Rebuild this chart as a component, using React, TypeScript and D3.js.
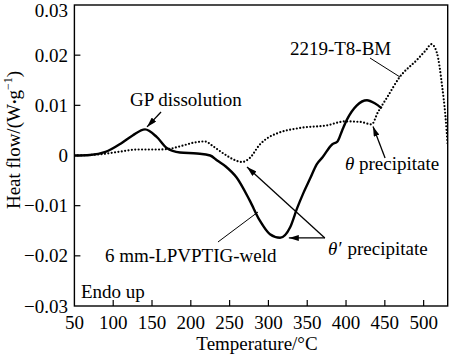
import React from "react";
import * as d3 from "d3";

const xTicks = [50, 100, 150, 200, 250, 300, 350, 400, 450, 500];
const yTicks = [-0.03, -0.02, -0.01, 0, 0.01, 0.02, 0.03];

const weldT = [50, 70, 90, 110, 125, 141, 156, 169, 186, 208, 225, 234, 245, 259, 276, 289, 302, 315, 328, 337, 345, 354, 362, 370, 382, 389, 395, 401, 414, 427, 437, 446];
const weldV = [0, 0.0001, 0.0007, 0.0024, 0.004, 0.0052, 0.0037, 0.0015, 0.0006, 0.0004, 0.0, -0.001, -0.0022, -0.0044, -0.009, -0.013, -0.0157, -0.0164, -0.0143, -0.0105, -0.0075, -0.0045, -0.0018, -0.0003, 0.0022, 0.0028, 0.005, 0.0071, 0.01, 0.011, 0.0104, 0.0094];

const bmT = [50, 70, 87, 110, 131, 160, 175, 190, 205, 218, 229, 242, 255, 266, 276, 289, 300, 311, 341, 375, 399, 418, 433, 441, 453, 469, 491, 503, 510, 517, 524, 528, 531];
const bmV = [0, 0.0001, 0.0003, 0.0008, 0.0012, 0.0012, 0.0014, 0.002, 0.0026, 0.0028, 0.0018, 0.0004, -0.0008, -0.0013, -0.0005, 0.0022, 0.0036, 0.0044, 0.0055, 0.006, 0.0068, 0.0067, 0.0062, 0.0086, 0.0116, 0.0156, 0.019, 0.021, 0.0222, 0.0205, 0.0136, 0.008, 0.002];

const W = 450, H = 356;
const left = 74.4, right = 447.7, top = 5, bottom = 306;
const FONT = "'Liberation Serif', 'Times New Roman', serif";

export default function App() {
  const x = d3.scaleLinear().domain([50, 531]).range([left, right]);
  const y = d3.scaleLinear().domain([-0.03, 0.03]).range([bottom, top]);
  const mk = (ts: number[], vs: number[]) =>
    d3
      .line<number>()
      .x((t) => x(t))
      .y((_, i) => y(vs[i]))
      .curve(d3.curveMonotoneX)(ts) as string;

  const arrow = (t1: number, v1: number, t2: number, v2: number, head = true, sw = 1.3) => (
    <line
      x1={x(t1)}
      y1={y(v1)}
      x2={x(t2)}
      y2={y(v2)}
      stroke="#000"
      strokeWidth={sw}
      markerEnd={head ? "url(#ah)" : undefined}
    />
  );
  const fs = 19;
  return (
    <svg width={W} height={H} style={{ position: "absolute", left: 0, top: 0, background: "#fff" }} fontFamily={FONT}>
      <defs>
        <marker id="ah" viewBox="0 0 10 6" refX="10" refY="3" markerWidth="10" markerHeight="6" markerUnits="userSpaceOnUse" orient="auto">
          <path d="M0,0 L10,3 L0,6 Z" fill="#000" />
        </marker>
        <clipPath id="clip">
          <rect x={left} y={top} width={right - left} height={bottom - top} />
        </clipPath>
      </defs>
      <rect x={0} y={0} width={W} height={H} fill="#fff" />
      <g clipPath="url(#clip)">
        <path d={mk(bmT, bmV)} fill="none" stroke="#000" strokeWidth={2.2} strokeDasharray="0 3.4" strokeLinecap="round" />
        <path d={mk(weldT, weldV)} fill="none" stroke="#000" strokeWidth={2.4} />
      </g>
      <rect x={left} y={top} width={right - left} height={bottom - top} fill="none" stroke="#000" strokeWidth={1.4} />
      {xTicks.map((t) => (
        <g key={"x" + t}>
          {t > 50 && <line x1={x(t)} x2={x(t)} y1={bottom} y2={bottom - 6} stroke="#000" strokeWidth={1.2} />}
          <text x={x(t)} y={329} fontSize={fs} textAnchor="middle">
            {t}
          </text>
        </g>
      ))}
      {yTicks.map((v) => (
        <g key={"y" + v}>
          {v > -0.03 && v < 0.03 && <line x1={left} x2={left + 6} y1={y(v)} y2={y(v)} stroke="#000" strokeWidth={1.2} />}
          <text x={68} y={Math.max(y(v) + 6.5, 17)} fontSize={fs} textAnchor="end">
            {v === 0 ? "0" : (v < 0 ? "\u2212" : "") + Math.abs(v).toFixed(2)}
          </text>
        </g>
      ))}
      <text x={257} y={350} fontSize={fs} textAnchor="middle">
        Temperature/°C
      </text>
      <text transform={`translate(20,${140}) rotate(-90)`} fontSize={fs} textAnchor="middle">
        Heat flow/(W<tspan fontSize={13} dy={-1}>•</tspan>
        <tspan dy={1}>g</tspan>
        <tspan fontSize={12} dy={-8}>−1</tspan>
        <tspan dy={8}>)</tspan>
      </text>

      <text x={x(121.6)} y={y(0.00987)} fontSize={fs}>GP dissolution</text>
      {arrow(161.6, 0.00867, 143.6, 0.0057)}

      <text x={x(327.7)} y={y(0.02003)} fontSize={fs}>2219-T8-BM</text>
      {arrow(430.9, 0.01943, 469.5, 0.01565, false, 1)}

      <text x={x(398.6)} y={y(-0.00289)} fontSize={fs}>
        <tspan fontStyle="italic">θ</tspan> precipitate
      </text>
      {arrow(450.3, -0.0005, 434.8, 0.0058)}

      <text x={x(376.8)} y={y(-0.01983)} fontSize={fs}>
        <tspan fontStyle="italic">θ′</tspan>
        <tspan dx={6}>precipitate</tspan>
      </text>
      {arrow(372.7, -0.01644, 326.3, -0.01644)}
      {arrow(372.7, -0.01644, 272.4, -0.0023)}

      <text x={x(89.4)} y={y(-0.02123)} fontSize={fs}>6 mm-LPVPTIG-weld</text>
      {arrow(235, -0.01724, 286.6, -0.01126, false, 1)}

      <text x={x(58.5)} y={y(-0.0284)} fontSize={fs}>Endo up</text>
    </svg>
  );
}
